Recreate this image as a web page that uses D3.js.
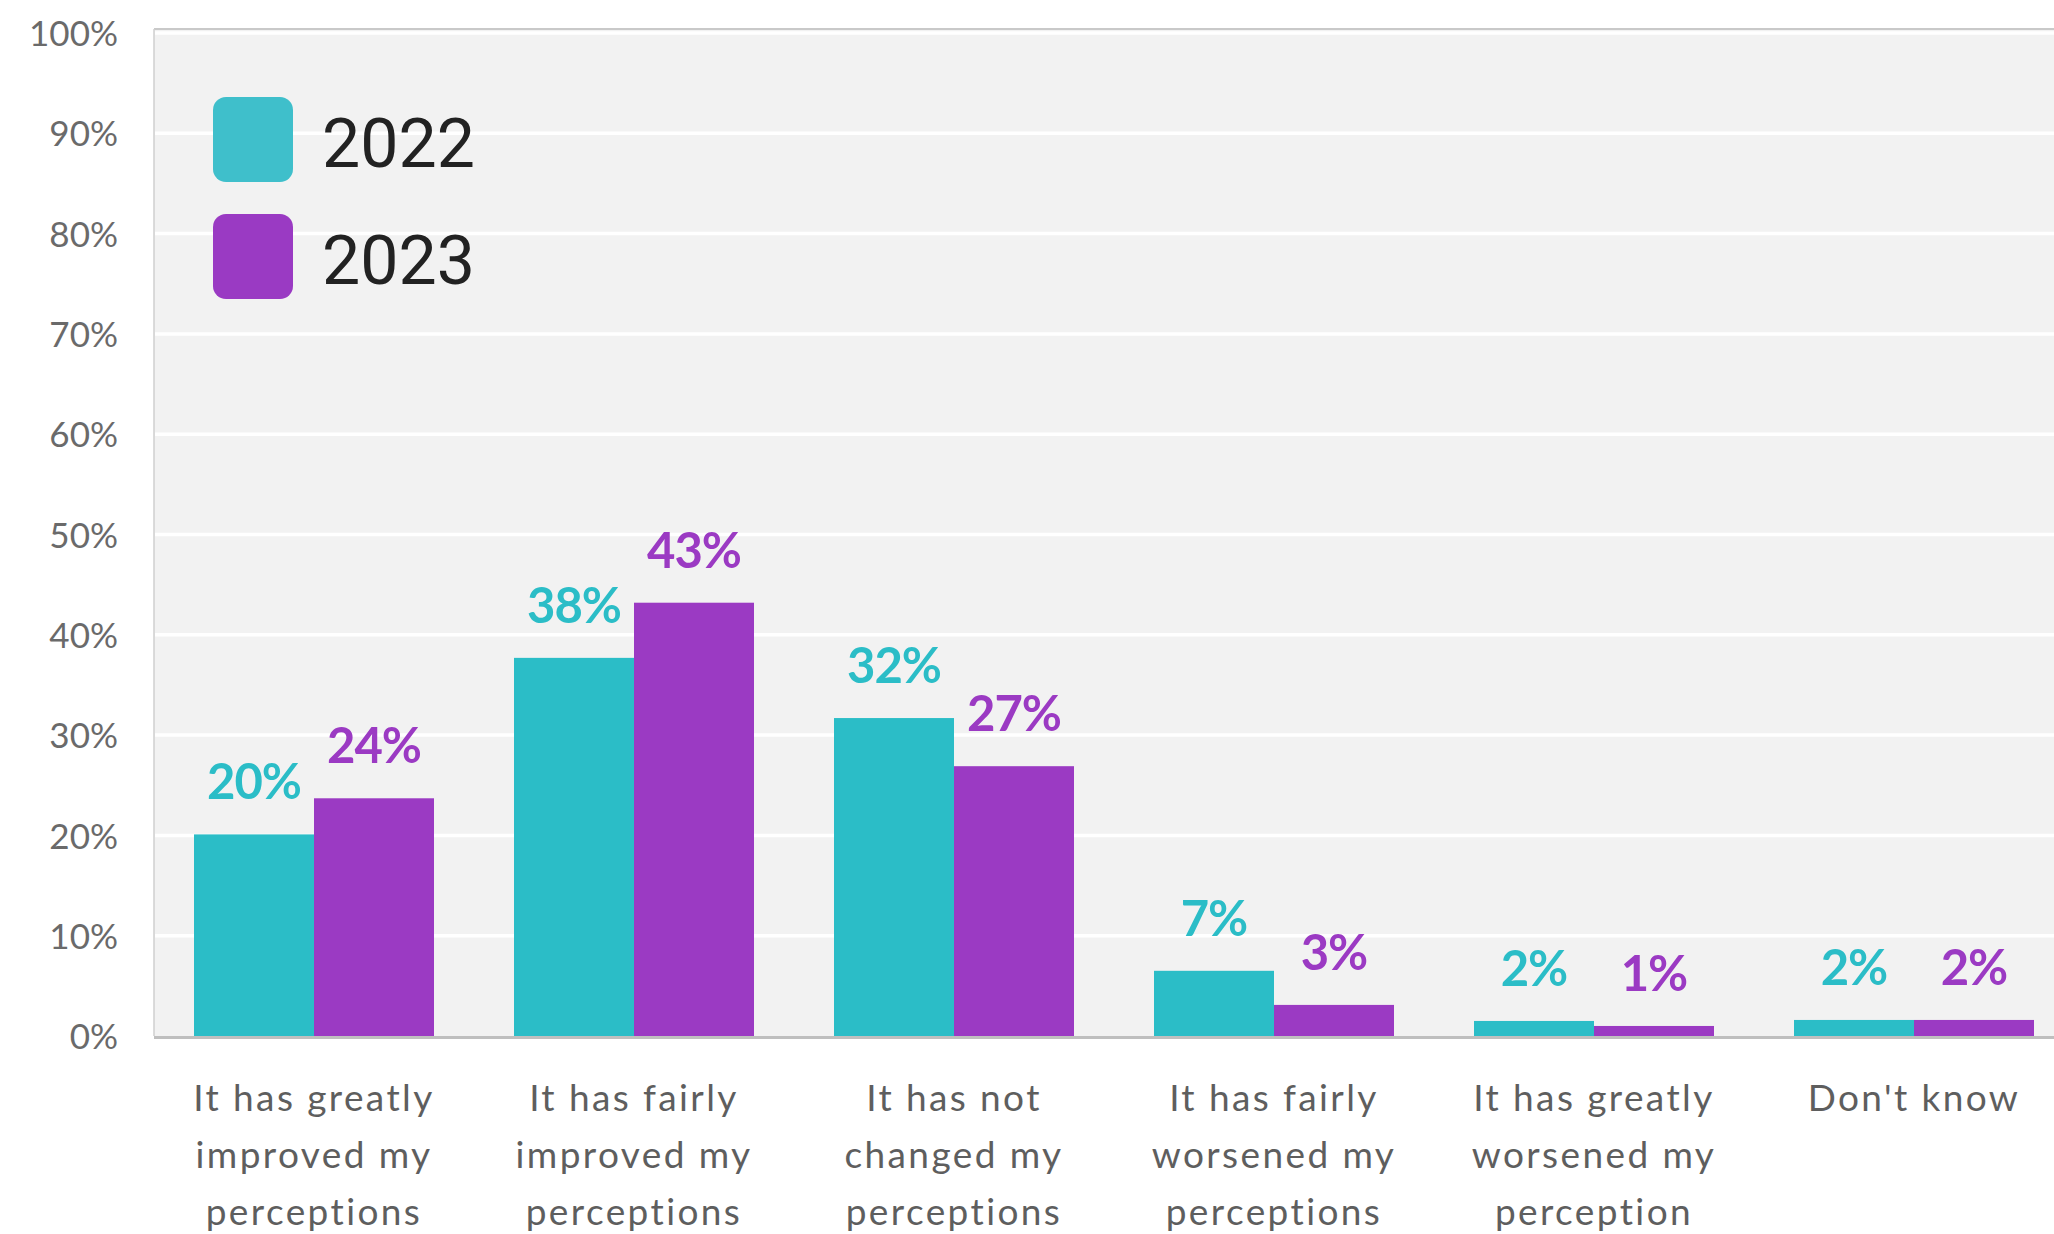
<!DOCTYPE html>
<html>
<head>
<meta charset="utf-8">
<script src="https://cdn.jsdelivr.net/npm/d3@7"></script>
<style>
  html, body { margin: 0; padding: 0; background: #ffffff; }
  svg { display: block; }
</style>
</head>
<body>
<svg id="chart" width="2054" height="1234"></svg>
<script>
// ---- data ----
const categories = [
  "It has greatly improved my perceptions",
  "It has fairly improved my perceptions",
  "It has not changed my perceptions",
  "It has fairly worsened my perceptions",
  "It has greatly worsened my perception",
  "Don't know"
];
const categoryLines = [
  ["It has greatly", "improved my", "perceptions"],
  ["It has fairly", "improved my", "perceptions"],
  ["It has not", "changed my", "perceptions"],
  ["It has fairly", "worsened my", "perceptions"],
  ["It has greatly", "worsened my", "perception"],
  ["Don't know"]
];
const seriesNames = ["2022", "2023"];
const values2022 = [20.1, 37.7, 31.7, 6.5, 1.5, 1.6];
const values2023 = [23.7, 43.2, 26.9, 3.1, 1.0, 1.6];
const labels2022 = ["20%", "38%", "32%", "7%", "2%", "2%"];
const labels2023 = ["24%", "43%", "27%", "3%", "1%", "2%"];
const yTicks = [0, 10, 20, 30, 40, 50, 60, 70, 80, 90, 100];

const colors = { "2022": "#2bbdc7", "2023": "#9b3ac3" };
const legendColors = { "2022": "#3fbfcb", "2023": "#9a3ac3" };

const series = [
  { name: "2022", values: values2022, labels: labels2022 },
  { name: "2023", values: values2023, labels: labels2023 }
];

// ---- layout ----
const svg = d3.select("#chart");
const plotLeft = 154, plotTop = 29;
const W = 2054;

const x = d3.scaleBand().domain(categories).range([plotLeft, plotLeft + 6 * 320])
  .paddingInner(0.25).paddingOuter(0.125);
const xs = d3.scaleBand().domain(seriesNames).range([0, x.bandwidth()]);
const y = d3.scaleLinear().domain([0, 100]).range([1036, 33]);

// plot background
svg.append("rect")
  .attr("x", plotLeft).attr("y", plotTop)
  .attr("width", W - plotLeft + 10).attr("height", y(0) - plotTop)
  .attr("fill", "#f2f2f2");
// top & left border
svg.append("line").attr("x1", plotLeft).attr("x2", W).attr("y1", plotTop).attr("y2", plotTop)
  .attr("stroke", "#c9c9c9").attr("stroke-width", 2);
svg.append("line").attr("x1", plotLeft).attr("x2", plotLeft).attr("y1", plotTop).attr("y2", y(0))
  .attr("stroke", "#cfcfcf").attr("stroke-width", 1.5);

// gridlines
svg.append("g").selectAll("line").data(yTicks.filter(t => t > 0)).join("line")
  .attr("x1", plotLeft + 1).attr("x2", W)
  .attr("y1", d => y(d)).attr("y2", d => y(d))
  .attr("stroke", "#ffffff").attr("stroke-width", 3.5);

// y axis labels
const yAxis = d3.axisLeft(y).tickValues(yTicks).tickFormat(d => d + "%").tickSize(0).tickPadding(0);
const yg = svg.append("g").attr("transform", `translate(118,0)`).call(yAxis);
yg.select(".domain").remove();
yg.selectAll("text")
  .attr("font-family", "Lato, sans-serif").attr("font-size", 35)
  .attr("fill", "#6a6a6a").attr("dy", "0.36em").attr("text-anchor", "end");

// bars
const groups = svg.append("g").selectAll("g").data(series).join("g");
groups.selectAll("rect").data(s => s.values.map((v, i) => ({ s: s.name, v, i }))).join("rect")
  .attr("x", d => x(categories[d.i]) + xs(d.s))
  .attr("width", xs.bandwidth())
  .attr("y", d => y(d.v))
  .attr("height", d => y(0) - y(d.v))
  .attr("fill", d => colors[d.s]);

// value labels
groups.selectAll("text").data(s => s.values.map((v, i) => ({ s: s.name, v, i, l: s.labels[i] }))).join("text")
  .attr("x", d => x(categories[d.i]) + xs(d.s) + xs.bandwidth() / 2)
  .attr("y", d => y(d.v) - 35)
  .attr("text-anchor", "middle")
  .attr("font-family", "Lato, sans-serif").attr("font-weight", 700).attr("font-size", 49)
  .attr("letter-spacing", -1)
  .attr("fill", d => colors[d.s])
  .text(d => d.l);

// baseline
svg.append("line").attr("x1", plotLeft).attr("x2", W).attr("y1", y(0) + 1.5).attr("y2", y(0) + 1.5)
  .attr("stroke", "#bfbfbf").attr("stroke-width", 3);

// category labels
const catG = svg.append("g").selectAll("text").data(categories).join("text")
  .attr("x", d => x(d) + x.bandwidth() / 2)
  .attr("y", 1111)
  .attr("text-anchor", "middle")
  .attr("font-family", "Lato, sans-serif").attr("font-size", 37)
  .attr("letter-spacing", 2.4)
  .attr("fill", "#5e5e5e");
catG.each(function (d, i) {
  const t = d3.select(this);
  categoryLines[i].forEach((line, k) => {
    t.append("tspan").attr("x", x(d) + x.bandwidth() / 2).attr("y", 1111 + k * 57).text(line);
  });
});

// legend
const legend = svg.append("g").selectAll("g").data(seriesNames).join("g")
  .attr("transform", (d, i) => `translate(213, ${97 + i * 117})`);
legend.append("rect").attr("width", 80).attr("height", 85).attr("rx", 13).attr("ry", 13)
  .attr("fill", d => legendColors[d]);
legend.append("text").attr("x", 109).attr("y", 70)
  .attr("font-family", "Roboto, sans-serif").attr("font-size", 68)
  .attr("fill", "#222222")
  .text(d => d);
</script>
</body>
</html>
